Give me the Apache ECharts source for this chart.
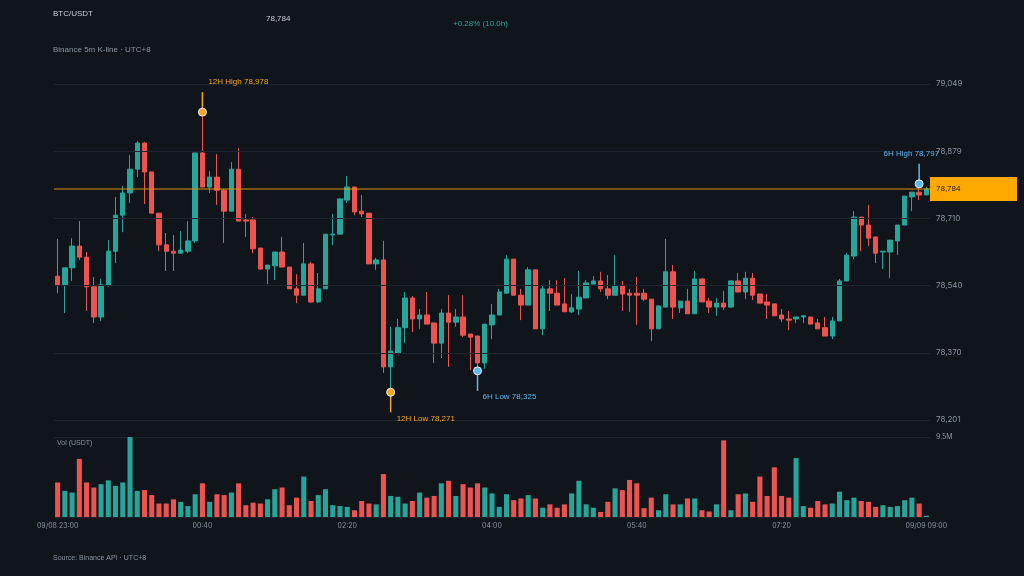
<!DOCTYPE html>
<html>
<head>
<meta charset="utf-8">
<style>
  html, body { margin: 0; padding: 0; background: #10151c; }
  #chart { width: 1024px; height: 576px; }
</style>
<script src="https://cdn.jsdelivr.net/npm/echarts@6/dist/echarts.min.js"></script>
</head>
<body>
<div id="chart"></div>
<script>
// OHLC per 5m candle: [open, close, low, high]
var candles = [
  [78564,78542,78521,78658],[78542,78585,78471,78585],[78585,78640,78552,78660],[78640,78612,78605,78703],
  [78612,78537,78476,78625],[78537,78461,78446,78562],[78461,78542,78451,78557],[78542,78627,78537,78655],
  [78627,78718,78597,78764],[78718,78774,78675,78792],[78774,78834,78749,78870],[78834,78900,78814,78905],
  [78900,78827,78746,78903],[78827,78723,78723,78827],[78723,78643,78627,78723],[78643,78627,78577,78673],
  [78627,78622,78577,78668],[78622,78630,78622,78678],[78627,78653,78622,78703],[78653,78875,78648,78875],
  [78875,78789,78789,78978],[78789,78814,78774,78829],[78814,78781,78744,78872],[78781,78728,78648,78784],
  [78728,78834,78728,78852],[78834,78703,78703,78887],[78706,78703,78663,78721],[78706,78633,78622,78713],
  [78635,78582,78580,78635],[78582,78592,78544,78592],[78590,78625,78554,78625],[78625,78587,78587,78663],
  [78587,78532,78532,78587],[78532,78516,78496,78569],[78516,78595,78516,78648],[78595,78499,78496,78600],
  [78499,78532,78496,78572],[78532,78670,78532,78670],[78668,78670,78643,78721],[78670,78759,78670,78759],
  [78756,78789,78749,78817],[78789,78726,78718,78789],[78728,78721,78713,78769],[78723,78595,78595,78723],
  [78595,78605,78580,78610],[78605,78335,78320,78653],[78335,78375,78271,78436],[78370,78434,78370,78456],
  [78434,78509,78395,78524],[78509,78456,78423,78514],[78456,78466,78431,78481],[78466,78443,78443,78524],
  [78446,78395,78345,78446],[78395,78471,78357,78481],[78471,78448,78335,78516],[78448,78461,78436,78481],
  [78461,78415,78410,78516],[78418,78410,78327,78418],[78413,78345,78325,78413],[78345,78443,78330,78443],
  [78441,78466,78405,78494],[78466,78524,78466,78532],[78521,78607,78521,78617],[78607,78516,78516,78607],
  [78516,78491,78453,78532],[78491,78580,78491,78587],[78580,78431,78431,78580],[78431,78532,78415,78542],
  [78532,78521,78476,78554],[78521,78491,78491,78554],[78494,78474,78474,78559],[78474,78484,78471,78519],
  [78481,78511,78466,78577],[78509,78547,78509,78554],[78544,78552,78544,78564],[78552,78532,78524,78575],
  [78532,78516,78506,78567],[78516,78539,78516,78617],[78539,78519,78476,78552],[78521,78516,78474,78532],
  [78521,78516,78441,78562],[78521,78506,78501,78532],[78506,78431,78400,78506],[78431,78489,78431,78489],
  [78486,78575,78486,78658],[78575,78486,78456,78592],[78484,78501,78471,78501],[78501,78469,78469,78532],
  [78469,78557,78469,78577],[78557,78499,78499,78557],[78501,78486,78471,78509],[78486,78496,78464,78509],
  [78496,78486,78479,78527],[78486,78552,78486,78552],[78552,78524,78524,78572],[78524,78559,78506,78575],
  [78559,78516,78504,78572],[78519,78496,78496,78519],[78499,78491,78456,78519],[78494,78464,78464,78494],
  [78466,78456,78448,78481],[78456,78453,78428,78476],[78456,78461,78446,78461],[78461,78464,78446,78466],
  [78461,78443,78443,78461],[78446,78431,78431,78456],[78434,78413,78413,78461],[78413,78451,78405,78461],
  [78451,78552,78451,78557],[78552,78617,78552,78622],[78615,78713,78607,78728],[78713,78693,78627,78713],
  [78693,78660,78640,78744],[78663,78622,78597,78663],[78625,78627,78582,78627],[78625,78655,78559,78655],
  [78653,78693,78617,78693],[78693,78766,78693,78766],[78764,78776,78728,78776],[78776,78769,78756,78797],
  [78769,78784,78769,78789]
];

// volume in millions USDT
var volumes = [
  4.1,3.1,2.9,6.9,4.1,3.5,3.9,4.35,3.7,4.1,9.5,3.1,3.2,2.6,1.6,1.6,2.1,1.8,1.3,2.7,
  4.0,1.8,2.7,2.6,2.9,4.0,1.4,1.7,1.6,2.1,3.3,3.5,1.4,2.3,4.8,1.9,2.6,3.3,1.4,1.3,
  1.2,0.8,1.9,1.6,1.5,5.1,2.5,2.4,1.6,1.9,2.9,2.3,2.5,4.0,4.3,2.5,3.9,3.5,4.0,3.5,
  2.8,1.2,2.7,2.0,2.2,2.6,2.2,1.1,1.5,1.1,1.5,2.8,4.3,1.5,1.1,0.6,1.8,3.4,3.2,4.4,
  4.0,1.05,2.3,0.8,2.7,1.5,1.5,2.2,2.2,0.8,0.65,1.5,9.1,0.8,2.7,2.8,1.8,4.8,2.5,5.9,
  2.5,2.3,7.0,1.3,1.1,1.9,1.5,1.6,3.0,2.0,2.3,1.9,1.8,1.2,1.4,1.2,1.3,2.0,2.3,1.6,
  0.15
];

var priceTicks = [78201, 78370, 78540, 78710, 78879, 79049];
var lastPrice = 78784;
var volMax = 9.5;

// high / low markers: candle index, price, text
var markers = [
  { idx: 20, price: 78978, text: '12H High 78,978', kind: 'hi12' },
  { idx: 46, price: 78271, text: '12H Low 78,271', kind: 'lo12' },
  { idx: 58, price: 78325, text: '6H Low 78,325', kind: 'lo6' },
  { idx: 119, price: 78797, text: '6H High 78,797', kind: 'hi6' }
];

// time categories, 5m steps from 09/08 23:00
var times = [];
for (var i = 0; i < candles.length; i++) {
  var m = 23 * 60 + i * 5;
  var day = m >= 1440 ? '09/09' : '09/08';
  m = m % 1440;
  var hh = ('0' + Math.floor(m / 60)).slice(-2), mm = ('0' + (m % 60)).slice(-2);
  times.push(day + ' ' + hh + ':' + mm);
}

var UP = '#26a69a', DOWN = '#ef5350', GRID = '#1d2530', TXT = '#8a93a0', ORANGE = '#f5a623', BLUE = '#5cb8f0';
var markStyle = {
  hi12: { color: ORANGE, dir: -1, dx: 6, dy: -30, align: 'left' },
  lo12: { color: ORANGE, dir: 1, dx: 6, dy: 27, align: 'left' },
  lo6:  { color: BLUE, dir: 1, dx: 5, dy: 26, align: 'left' },
  hi6:  { color: BLUE, dir: -1, dx: 20, dy: -30, align: 'right' }
};

function fmt(v) { return v.toLocaleString('en-US'); }

var volData = volumes.map(function (v, i) {
  return { value: v, itemStyle: { color: candles[i][1] >= candles[i][0] ? UP : DOWN } };
});

var tickLines = priceTicks.map(function (p) {
  return { yAxis: p, label: { formatter: fmt(p) } };
});

var chart = echarts.init(document.getElementById('chart'));
var option = {
  backgroundColor: '#10151c',
  animation: false,
  textStyle: { fontFamily: 'Inter, Roboto, sans-serif' },
  graphic: [
    { type: 'text', left: 53, top: 10, style: { text: 'BTC/USDT', fill: '#c9ced6', fontSize: 8 } },
    { type: 'text', left: 266, top: 15, style: { text: fmt(lastPrice), fill: '#c9ced6', fontSize: 8 } },
    { type: 'text', left: 453, top: 20, style: { text: '+0.28% (10.0h)', fill: UP, fontSize: 8 } },
    { type: 'text', left: 53, top: 46, style: { text: 'Binance 5m K-line · UTC+8', fill: TXT, fontSize: 8 } },
    { type: 'text', left: 57, top: 440, style: { text: 'Vol (USDT)', fill: TXT, fontSize: 7 } },
    { type: 'text', left: 53, top: 555, style: { text: 'Source: Binance API · UTC+8', fill: TXT, fontSize: 7 } }
  ],
  grid: [
    { left: 54, right: 94, top: 84, height: 336 },
    { left: 54, right: 94, top: 437, height: 80 }
  ],
  xAxis: [
    { type: 'category', data: times, gridIndex: 0, boundaryGap: true,
      axisLine: { show: false }, axisTick: { show: false }, axisLabel: { show: false } },
    { type: 'category', data: times, gridIndex: 1, boundaryGap: true,
      axisLine: { lineStyle: { color: GRID } },
      axisTick: { alignWithLabel: true, interval: 19, lineStyle: { color: TXT }, length: 3 },
      axisLabel: { interval: 19, color: TXT, fontSize: 7, margin: 5,
        formatter: function (v, i) { return (i === 0 || i === times.length - 1) ? v : v.slice(6); } } }
  ],
  yAxis: [
    { type: 'value', gridIndex: 0, min: priceTicks[0], max: priceTicks[priceTicks.length - 1], scale: true,
      axisLine: { show: false }, axisTick: { show: false }, axisLabel: { show: false }, splitLine: { show: false } },
    { type: 'value', gridIndex: 1, min: 0, max: volMax, interval: volMax, position: 'right',
      axisLine: { show: false }, axisTick: { show: false },
      axisLabel: { color: TXT, fontSize: 7, margin: 6, verticalAlign: 'middle',
        formatter: function (v) { return v > 0 ? v + 'M' : ''; } },
      splitLine: { lineStyle: { color: GRID } } }
  ],
  series: [
    { type: 'candlestick', xAxisIndex: 0, yAxisIndex: 0, data: candles, barWidth: '68%',
      itemStyle: { color: UP, color0: DOWN, borderColor: UP, borderColor0: DOWN, borderWidth: 1 },
      markLine: { silent: true, symbol: 'none', animation: false,
        lineStyle: { color: GRID, width: 1, type: 'solid' },
        label: { show: true, position: 'end', color: TXT, fontSize: 8, distance: 6 },
        emphasis: { disabled: true },
        data: tickLines } },
    // last price line + tag
    { type: 'custom', xAxisIndex: 0, yAxisIndex: 0, z: 5, silent: true,
      data: [[0, lastPrice]],
      renderItem: function (params, api) {
        var cs = params.coordSys;
        var y = api.coord([0, api.value(1)])[1];
        return { type: 'group', children: [
          { type: 'line', shape: { x1: cs.x, y1: y, x2: cs.x + cs.width, y2: y },
            style: { stroke: '#d9960f', lineWidth: 1 } },
          { type: 'rect', shape: { x: cs.x + cs.width, y: y - 12, width: 87, height: 24 },
            style: { fill: '#ffa800' } },
          { type: 'text', x: cs.x + cs.width + 6, y: y,
            style: { text: fmt(lastPrice), fill: '#1a1a1a', fontSize: 8, verticalAlign: 'middle' } }
        ] };
      } },
    { type: 'bar', xAxisIndex: 1, yAxisIndex: 1, data: volData, barWidth: '70%' },
    { type: 'custom', xAxisIndex: 0, yAxisIndex: 0, z: 10,
      data: markers.map(function (d) { return [d.idx, d.price]; }),
      renderItem: function (params, api) {
        var p = api.coord([api.value(0), api.value(1)]);
        var d = markers[params.dataIndex], s = markStyle[d.kind];
        return { type: 'group', children: [
          { type: 'line', shape: { x1: p[0], y1: p[1], x2: p[0], y2: p[1] + s.dir * 20 },
            style: { stroke: s.color, lineWidth: 1.5 } },
          { type: 'circle', shape: { cx: p[0], cy: p[1], r: 4 },
            style: { fill: s.color, stroke: '#e8eef5', lineWidth: 1 } },
          { type: 'text', x: p[0] + s.dx, y: p[1] + s.dy,
            style: { text: d.text, fill: s.color, fontSize: 8, align: s.align, verticalAlign: 'middle' } }
        ] };
      } }
  ]
};
chart.setOption(option);
</script>
</body>
</html>
